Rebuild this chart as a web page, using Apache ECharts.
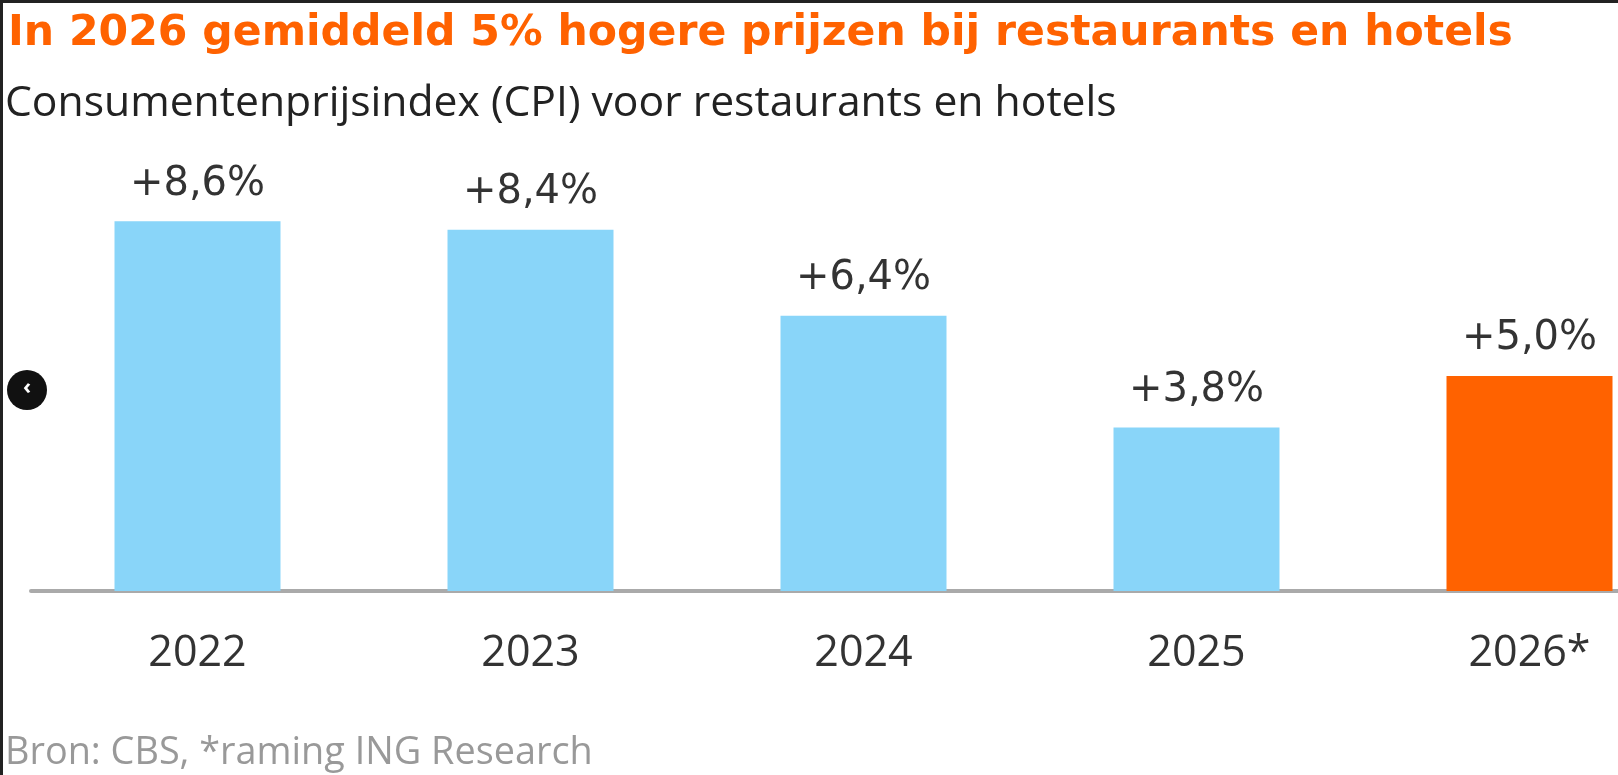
<!DOCTYPE html>
<html>
<head>
<meta charset="utf-8">
<script src="https://cdn.jsdelivr.net/npm/echarts@6/dist/echarts.min.js"></script>
<style>
html,body{margin:0;padding:0;background:#fff;overflow:hidden;width:1618px;height:775px;}
#c{width:1696px;height:775px;}
</style>
</head>
<body>
<div id="c"></div>
<script>
const categories = ['2022', '2023', '2024', '2025', '2026*'];
const values = [8.6, 8.4, 6.4, 3.8, 5.0];
const labels = ['+8,6%', '+8,4%', '+6,4%', '+3,8%', '+5,0%'];
const barColors = ['#89D5F9', '#89D5F9', '#89D5F9', '#89D5F9', '#FF6200'];

const titleText = 'In 2026 gemiddeld 5% hogere prijzen bij restaurants en hotels';
const subtitleText = 'Consumentenprijsindex (CPI) voor restaurants en hotels';
const sourceText = 'Bron: CBS, *raming ING Research';

const DEJA = '"DejaVu Sans", sans-serif';
const OPEN = '"Open Sans", "Noto Sans", sans-serif';

// fit a font size so the text spans a target width
const mctx = document.createElement('canvas').getContext('2d');
function fitSize(text, weight, family, target) {
  mctx.font = weight + ' 100px ' + family;
  return 100 * target / mctx.measureText(text).width;
}
const titleSize = fitSize(titleText, 'bold', DEJA, 1505);
const subSize = fitSize(subtitleText, 'normal', OPEN, 1112);
const srcSize = fitSize(sourceText, 'normal', OPEN, 588);

const chart = echarts.init(document.getElementById('c'), null, {renderer: 'canvas'});

chart.setOption({
  backgroundColor: '#ffffff',
  animation: false,
  grid: {left: 31, right: 0, top: 161, bottom: 184, containLabel: false},
  xAxis: {
    type: 'category',
    data: categories,
    axisLine: {show: true, lineStyle: {color: '#aaaaaa', width: 4}},
    axisTick: {show: false},
    axisLabel: {color: '#333333', fontSize: 43, fontFamily: OPEN, margin: 41}
  },
  yAxis: {
    type: 'value',
    min: 0,
    max: 10,
    interval: 2,
    show: false,
    splitLine: {show: false}
  },
  series: [{
    type: 'bar',
    barWidth: 166,
    data: values.map((v, i) => ({value: v, itemStyle: {color: barColors[i]}})),
    label: {
      show: true,
      position: 'top',
      distance: 17,
      color: '#333333',
      fontSize: 40,
      fontFamily: DEJA,
      formatter: p => labels[p.dataIndex]
    }
  }],
  graphic: [
    {type: 'rect', shape: {x: 0, y: 0, width: 1696, height: 3}, style: {fill: '#222222'}, z: 100},
    {type: 'rect', shape: {x: 0, y: 0, width: 3, height: 775}, style: {fill: '#222222'}, z: 100},
    {type: 'text', x: 8, y: 47 - 0.3 * titleSize, style: {text: titleText, fill: '#FF6200', font: 'bold ' + titleSize.toFixed(2) + 'px ' + DEJA, verticalAlign: 'middle'}},
    {type: 'text', x: 5, y: 116.5 - 0.3 * subSize, style: {text: subtitleText, fill: '#222222', font: subSize.toFixed(2) + 'px ' + OPEN, verticalAlign: 'middle'}},
    {type: 'text', x: 5, y: 765 - 0.3 * srcSize, style: {text: sourceText, fill: '#999999', font: srcSize.toFixed(2) + 'px ' + OPEN, verticalAlign: 'middle'}},
    {type: 'circle', shape: {cx: 27, cy: 390, r: 20}, style: {fill: '#111111'}, z: 50},
    {type: 'text', x: 27, y: 388, style: {text: '‹', fill: '#ffffff', font: 'bold 22px ' + OPEN, align: 'center', verticalAlign: 'middle'}, z: 51}
  ]
});
</script>
</body>
</html>
